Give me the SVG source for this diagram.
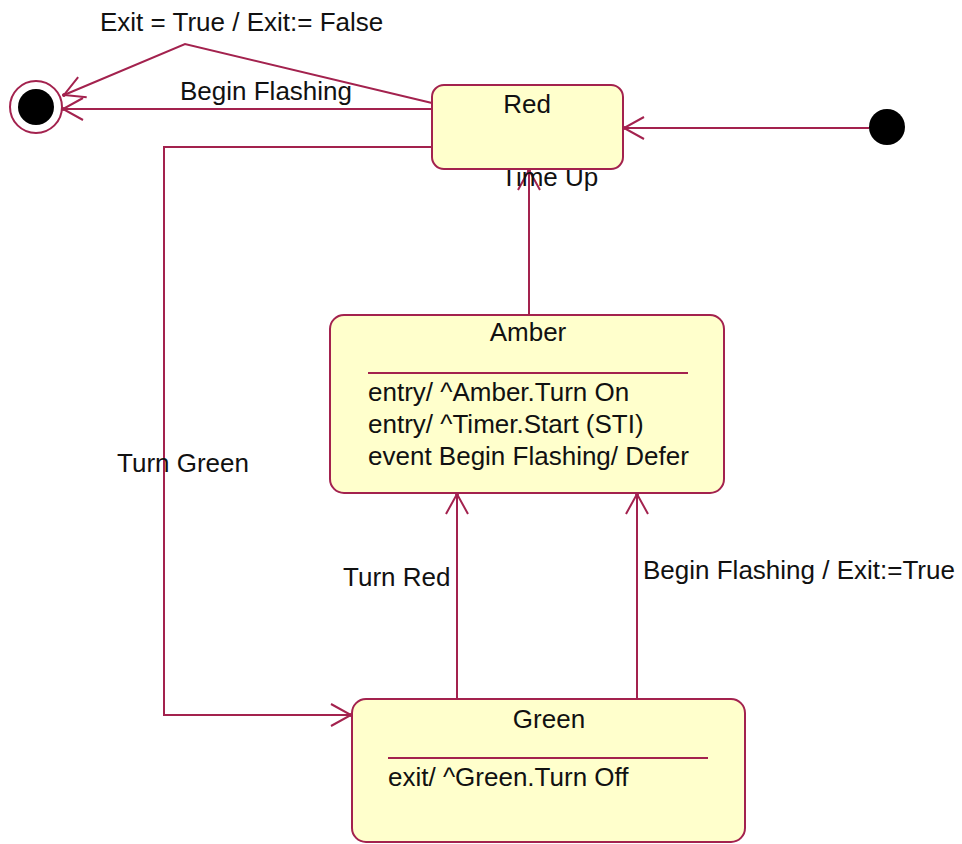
<svg xmlns="http://www.w3.org/2000/svg" width="962" height="844" viewBox="0 0 962 844">
<style>
.st{fill:#FFFFCC;stroke:#A3224E;stroke-width:2}
.ln{fill:none;stroke:#A3224E;stroke-width:2;marker-end:url(#arr)}
.sep{stroke:#A3224E;stroke-width:2}
text{font-family:"Liberation Sans",Arial,sans-serif;font-size:26px;fill:#111}
.c{text-anchor:middle}
</style>
<defs>
<marker id="arr" markerUnits="userSpaceOnUse" viewBox="-24 -14 28 28" markerWidth="28" markerHeight="28" refX="0" refY="0" orient="auto" overflow="visible">
<path d="M-20,-11 L0,0 L-20,11" fill="none" stroke="#A3224E" stroke-width="2"/>
<circle cx="0" cy="0" r="2" fill="#A3224E"/>
</marker>
</defs>
<rect width="962" height="844" fill="#FFFFFF"/>
<g id="connectors">
<polyline class="ln" points="432,103 185,44 64,95"/>
<line class="ln" x1="432" y1="109" x2="63" y2="109"/>
<polyline class="ln" points="432,147 164,147 164,715 351,715"/>
<line class="ln" x1="529" y1="315" x2="529" y2="170"/>
<line class="ln" x1="457" y1="699" x2="457" y2="494"/>
<line class="ln" x1="637" y1="699" x2="637" y2="494"/>
<line class="ln" x1="869" y1="128" x2="624" y2="128"/>
<text x="100" y="31">Exit = True / Exit:= False</text>
<text x="180" y="100">Begin Flashing</text>
<text x="117" y="472">Turn Green</text>
<text x="501" y="186">Time Up</text>
<text x="343" y="586">Turn Red</text>
<text x="643" y="579">Begin Flashing / Exit:=True</text>
</g>
<g id="final">
<circle cx="36" cy="107" r="26" fill="#FFFFFF" stroke="#A3224E" stroke-width="2"/>
<circle cx="36" cy="107" r="18" fill="#000000"/>
</g>
<g id="initial">
<circle cx="887" cy="127" r="18" fill="#000000"/>
</g>
<g id="red">
<rect class="st" x="432" y="85" width="191" height="84" rx="12"/>
<text class="c" x="527" y="113">Red</text>
</g>
<g id="amber">
<rect class="st" x="330" y="315" width="394" height="178" rx="14"/>
<text class="c" x="528" y="341">Amber</text>
<line class="sep" x1="368" y1="373" x2="688" y2="373"/>
<text x="368" y="401">entry/ ^Amber.Turn On</text>
<text x="368" y="433">entry/ ^Timer.Start (STI)</text>
<text x="368" y="465">event Begin Flashing/ Defer</text>
</g>
<g id="green">
<rect class="st" x="352" y="699" width="393" height="143" rx="14"/>
<text class="c" x="549" y="728">Green</text>
<line class="sep" x1="388" y1="758" x2="708" y2="758"/>
<text x="388" y="786">exit/ ^Green.Turn Off</text>
</g>
</svg>
